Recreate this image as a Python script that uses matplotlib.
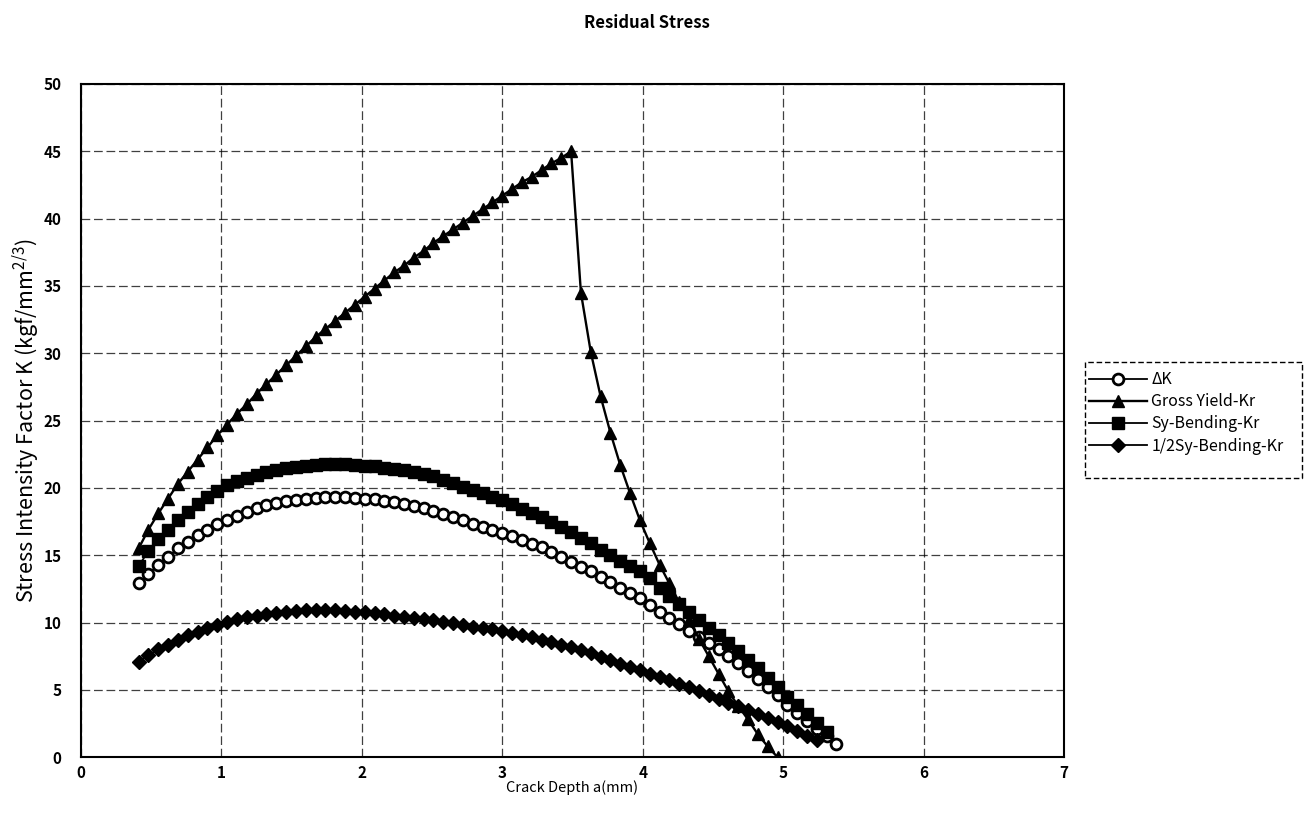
import matplotlib
matplotlib.use('Agg')
import matplotlib.pyplot as plt
from matplotlib.patches import Rectangle

plt.rcParams['font.family'] = ['Noto Sans CJK JP', 'DejaVu Sans']
plt.rcParams['mathtext.default'] = 'regular'

# Crack depth a (mm) for each computed point
crack_depth = [0.41, 0.48, 0.55, 0.62, 0.69, 0.76, 0.83, 0.90, 0.97, 1.04,
               1.11, 1.18, 1.25, 1.32, 1.39, 1.46, 1.53, 1.60, 1.67, 1.74,
               1.81, 1.88, 1.95, 2.02, 2.09, 2.16, 2.23, 2.30, 2.37, 2.44,
               2.51, 2.58, 2.65, 2.72, 2.79, 2.86, 2.93, 3.00, 3.07, 3.14,
               3.21, 3.28, 3.35, 3.42, 3.49, 3.56, 3.63, 3.70, 3.77, 3.84,
               3.91, 3.98, 4.05, 4.12, 4.19, 4.26, 4.33, 4.40, 4.47, 4.54,
               4.61, 4.68, 4.75, 4.82, 4.89, 4.96, 5.03, 5.10, 5.17, 5.24,
               5.31, 5.38]

delta_k = [12.9, 13.6, 14.3, 14.9, 15.5, 16.0, 16.5, 16.9, 17.3, 17.6,
           17.9, 18.2, 18.5, 18.7, 18.9, 19.0, 19.1, 19.2, 19.25, 19.3,
           19.3, 19.3, 19.25, 19.2, 19.15, 19.05, 18.95, 18.8, 18.65, 18.5,
           18.3, 18.05, 17.85, 17.6, 17.35, 17.1, 16.9, 16.65, 16.4, 16.1,
           15.85, 15.6, 15.25, 14.9, 14.5, 14.15, 13.8, 13.4, 13.0, 12.6,
           12.2, 11.8, 11.3, 10.8, 10.35, 9.9, 9.4, 8.95, 8.5, 8.05,
           7.55, 7.0, 6.4, 5.8, 5.2, 4.6, 3.9, 3.3, 2.7, 2.1,
           1.6, 1.0]

gross_yield = [15.5, 16.9, 18.1, 19.2, 20.3, 21.2, 22.1, 23.0, 23.9, 24.7,
               25.5, 26.2, 27.0, 27.7, 28.4, 29.1, 29.8, 30.5, 31.2, 31.8,
               32.4, 33.0, 33.6, 34.2, 34.8, 35.4, 36.0, 36.5, 37.1, 37.6,
               38.2, 38.7, 39.2, 39.7, 40.2, 40.7, 41.2, 41.7, 42.2, 42.7,
               43.1, 43.6, 44.1, 44.5, 45.0, 34.5, 30.1, 26.8, 24.1, 21.7,
               19.6, 17.6, 15.9, 14.3, 12.9, 11.5, 10.2, 8.8, 7.5, 6.2,
               4.9, 3.8, 2.8, 1.7, 0.8, 0.0]

sy_bending = [14.2, 15.3, 16.2, 16.9, 17.6, 18.2, 18.8, 19.3, 19.8, 20.2,
              20.5, 20.75, 20.95, 21.15, 21.3, 21.45, 21.55, 21.65, 21.7, 21.75,
              21.75, 21.75, 21.7, 21.65, 21.6, 21.5, 21.4, 21.3, 21.2, 21.05,
              20.85, 20.6, 20.35, 20.1, 19.85, 19.6, 19.35, 19.1, 18.8, 18.45,
              18.15, 17.8, 17.45, 17.1, 16.7, 16.3, 15.9, 15.4, 15.0, 14.6,
              14.2, 13.8, 13.3, 12.6, 12.0, 11.4, 10.8, 10.2, 9.6, 9.1,
              8.5, 7.9, 7.2, 6.6, 5.9, 5.2, 4.5, 3.9, 3.2, 2.5,
              1.9]

half_sy_bending = [7.1, 7.6, 8.0, 8.35, 8.7, 9.05, 9.3, 9.6, 9.85, 10.05,
                   10.25, 10.4, 10.5, 10.65, 10.7, 10.8, 10.85, 10.9, 10.9, 10.9,
                   10.9, 10.85, 10.8, 10.75, 10.7, 10.6, 10.5, 10.4, 10.3, 10.25,
                   10.15, 10.05, 9.95, 9.85, 9.7, 9.6, 9.5, 9.35, 9.2, 9.05,
                   8.9, 8.7, 8.55, 8.35, 8.15, 7.95, 7.7, 7.45, 7.2, 6.95,
                   6.7, 6.45, 6.2, 5.95, 5.7, 5.45, 5.2, 4.95, 4.65, 4.35,
                   4.05, 3.8, 3.5, 3.2, 2.9, 2.6, 2.3, 1.95, 1.6, 1.25]

fig = plt.figure(figsize=(13.09, 8.23), dpi=100)
ax = fig.add_axes([0.0619, 0.080, 0.7509, 0.818])

ax.plot(crack_depth[:len(delta_k)], delta_k, '-o', color='black', lw=1.3,
        ms=7.8, mfc='white', mec='black', mew=2.0, label='ΔK', zorder=3)
ax.plot(crack_depth[:len(gross_yield)], gross_yield, '-^', color='black', lw=1.7,
        ms=8.5, label='Gross Yield-Kr', zorder=4)
ax.plot(crack_depth[:len(sy_bending)], sy_bending, '-s', color='black', lw=1.3,
        ms=8, label='Sy-Bending-Kr', zorder=3)
ax.plot(crack_depth[:len(half_sy_bending)], half_sy_bending, '-D', color='black', lw=1.3,
        ms=7, label='1/2Sy-Bending-Kr', zorder=3)

ax.set_xlim(0, 7)
ax.set_ylim(0, 50)
ax.set_xticks(range(0, 8))
ax.set_yticks(range(0, 51, 5))
ax.grid(True, color='black', linestyle=(0, (7, 3)), linewidth=0.9, alpha=0.75)
ax.set_axisbelow(True)
ax.tick_params(length=0, labelsize=11, pad=14)
for lbl in ax.get_xticklabels() + ax.get_yticklabels():
    lbl.set_fontweight('bold')
ax.tick_params(axis='x', pad=6)
for sp in ax.spines.values():
    sp.set_linewidth(1.5)
    sp.set_color('black')

ax.set_xlabel('Crack Depth a(mm)', fontsize=10.5, labelpad=-1)
ax.set_ylabel('Stress Intensity Factor K (kgf/mm$^{2/3}$)', fontsize=15.5)
ax.yaxis.set_label_coords(-0.040, 0.5)

fig.text(0.494, 0.972, 'Residual Stress', ha='center', va='center',
         fontsize=12, fontweight='bold')

# dashed legend frame as in the original sheet
fig.patches.append(Rectangle((1085 / 1309, 1 - 478 / 823), 217 / 1309, 116 / 823,
                             transform=fig.transFigure, fill=False, edgecolor='black',
                             linestyle=(0, (4, 2)), linewidth=1.0))
leg = ax.legend(loc='upper left', bbox_to_anchor=(0.832, 0.549),
                bbox_transform=fig.transFigure, fontsize=11.5, frameon=False,
                handlelength=3.6, handletextpad=0.3,
                borderpad=0.0, labelspacing=0.32, borderaxespad=0)

fig.savefig('out.png', dpi=100)
